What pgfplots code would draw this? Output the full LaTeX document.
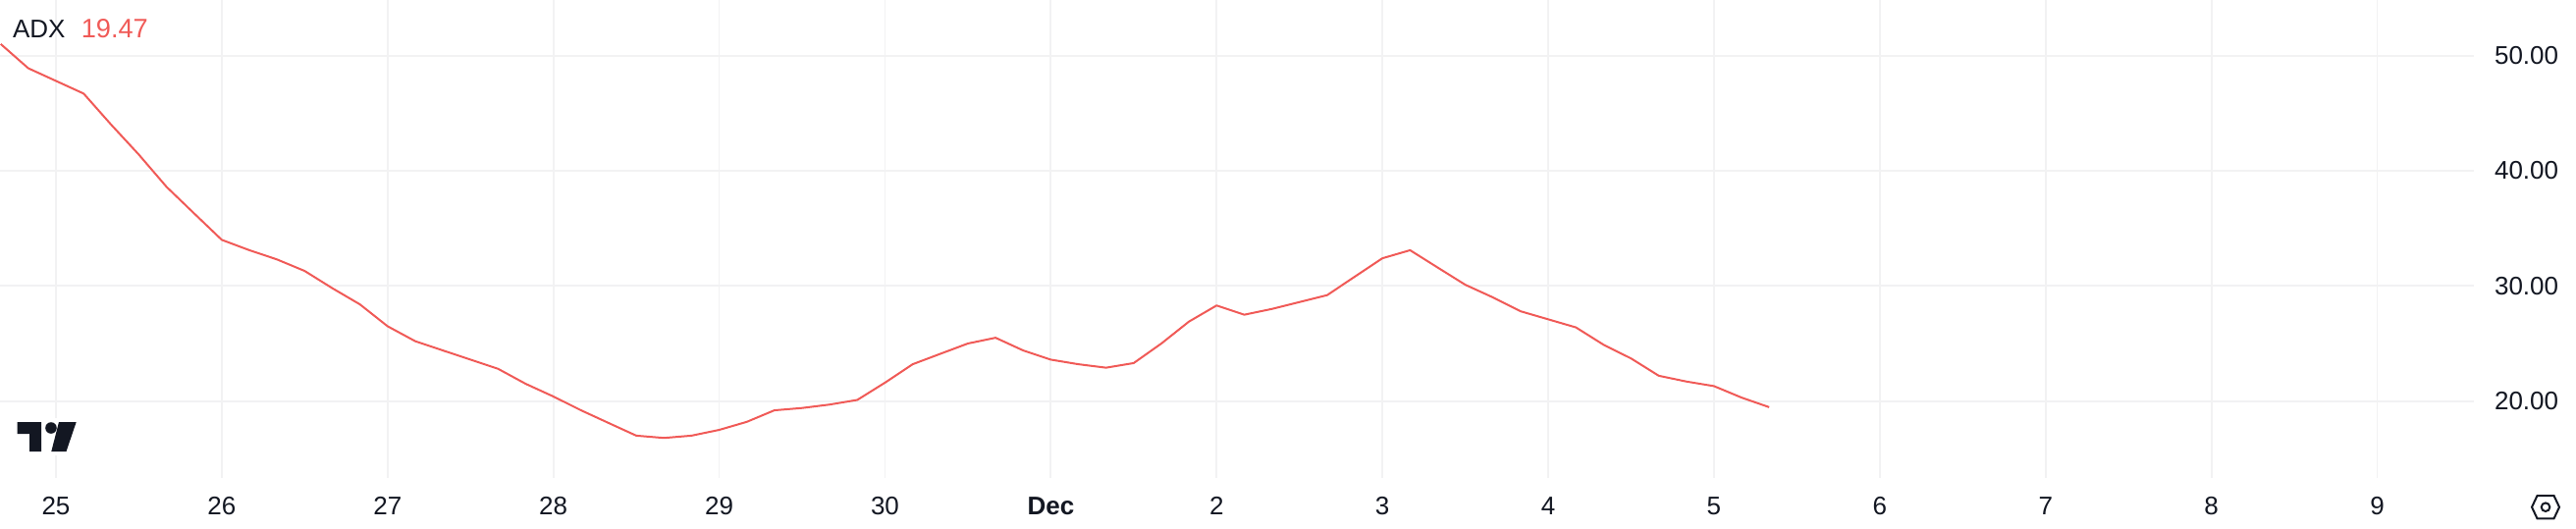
\documentclass[border=0pt]{standalone}
\usepackage{pgfplots}
\pgfplotsset{compat=1.18}
\usepackage{fontspec}
\setmainfont{Liberation Sans}
\definecolor{adx}{HTML}{F05A57}
\definecolor{ink}{HTML}{131722}
\definecolor{gridc}{HTML}{F2F2F3}
\begin{document}
\begin{tikzpicture}[x=1pt,y=1pt]
\useasboundingbox (0,0) rectangle (1312,269);
\begin{axis}[
  at={(0pt,25.5pt)},anchor=south west,
  scale only axis,width=1260pt,height=243.5pt,
  xmin=24.6625,xmax=39.583,ymin=13.325,ymax=54.825,
  axis line style={draw=none},
  major tick length=0pt,
  xtick={25,26,27,28,29,30,31,32,33,34,35,36,37,38,39},
  xticklabels={25,26,27,28,29,30,\textbf{Dec},2,3,4,5,6,7,8,9},
  ytick={20,30,40,50},
  axis y line*=right,
  axis x line*=bottom,
  grid=major,
  major grid style={gridc,line width=0.9pt},
  /pgf/number format/assume math mode=true,
  yticklabel={\pgfmathprintnumber[fixed,fixed zerofill,precision=2]{\tick}},
  ticklabel style={font=\fontsize{13}{15}\selectfont,text=ink},
  xticklabel style={anchor=center,yshift=-14.3pt},
  yticklabel style={anchor=west,xshift=7pt},
  clip=true,
]
\addplot[color=adx,line width=1pt,line join=round] coordinates {
(24.667,51.0)(24.833,48.9)(25,47.8)(25.167,46.7)(25.333,44.0)(25.5,41.4)(25.667,38.6)(25.833,36.3)
(26,34.0)(26.167,33.1)(26.333,32.3)(26.5,31.3)(26.667,29.8)(26.833,28.4)
(27,26.5)(27.167,25.2)(27.333,24.4)(27.5,23.6)(27.667,22.8)(27.833,21.5)
(28,20.4)(28.167,19.2)(28.333,18.1)(28.5,17.0)(28.667,16.8)(28.833,17.0)
(29,17.5)(29.167,18.2)(29.333,19.2)(29.5,19.4)(29.667,19.7)(29.833,20.1)
(30,21.6)(30.167,23.2)(30.333,24.1)(30.5,25.0)(30.667,25.5)(30.833,24.4)
(31,23.6)(31.167,23.2)(31.333,22.9)(31.5,23.3)(31.667,25.0)(31.833,26.9)
(32,28.3)(32.167,27.5)(32.333,28.0)(32.5,28.6)(32.667,29.2)(32.833,30.8)
(33,32.4)(33.167,33.1)(33.333,31.6)(33.5,30.1)(33.667,29.0)(33.833,27.8)
(34,27.1)(34.167,26.4)(34.333,24.9)(34.5,23.7)(34.667,22.2)(34.833,21.7)
(35,21.3)(35.167,20.3)(35.333,19.47)
};
\end{axis}
% legend text
\node[anchor=base west,inner sep=0,font=\fontsize{13}{15}\selectfont,text=ink] at (6.3,250) {ADX};
\node[anchor=base west,inner sep=0,font=\fontsize{13.6}{15}\selectfont,text=adx] at (41.2,250) {19.47};
% logo and settings icon (pixels halved, y flipped)
\begin{scope}[x=0.5pt,y=-0.5pt,shift={(0,-538)}]
\fill[white] (14,426) rectangle (82,464);
\fill[ink] (17.7,430)--(42,430)--(42,460)--(30,460)--(30,442)--(17.7,442)--cycle;
\fill[ink] (52,436) circle (5.8);
\fill[ink] (60,430)--(77.7,430)--(67.5,460)--(52.3,460)--cycle;
\draw[ink,line width=1,line join=miter] (2579,516.7)--(2584.5,505)--(2601.5,505)--(2607,516.7)--(2601.5,528.4)--(2584.5,528.4)--cycle;
\draw[ink,line width=1] (2593,516.7) circle (4.3);
\end{scope}
\end{tikzpicture}
\end{document}
